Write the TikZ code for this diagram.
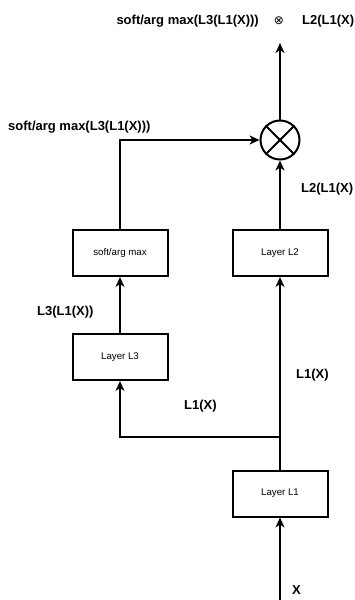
\documentclass[tikz,border=0pt]{standalone}
\usepackage{fontspec}
\setmainfont{Liberation Sans}
\newfontfamily\symfont{DejaVu Sans}
\usetikzlibrary{arrows.meta}
\begin{document}
\begin{tikzpicture}[x=1pt,y=-1pt,
  box/.style={draw,line width=2pt,minimum width=95pt,minimum height=46pt,inner sep=0pt,font=\fontsize{9.7}{11}\selectfont},
  lbl/.style={inner sep=0pt,font=\fontsize{13}{15}\selectfont\bfseries},
  arr/.style={line width=2pt,-{Stealth[length=10pt,width=9pt,inset=3pt]}},
  ln/.style={line width=2pt}]
\useasboundingbox (0,0) rectangle (354,600);
\node[box] (L1) at (280,493.5) {Layer L1};
\node[box] (L2) at (280,253) {Layer L2};
\node[box] (SM) at (120,253) {soft/arg max};
\node[box] (L3) at (120,357) {Layer L3};
\node[draw,circle,line width=2pt,minimum size=39pt,inner sep=0pt] (C) at (280,140) {};
\draw[ln] (C.north west) -- (C.south east);
\draw[ln] (C.north east) -- (C.south west);
\coordinate (xin) at (280,600);
\coordinate (j) at (280,437);
\coordinate (out) at (280,43);
\draw[arr] (xin) -- (L1.south);
\draw[arr] (L1.north) -- (L2.south);
\draw[arr] (j) -| (L3.south);
\draw[arr] (L3.north) -- (SM.south);
\draw[arr] (SM.north) |- (C.west);
\draw[arr] (L2.north) -- (C.south);
\draw[arr] (C.north) -- (out);
% labels
\node[lbl,anchor=east] (t1) at (259,21) {soft/arg max(L3(L1(X)))};
\node[inner sep=0pt,font=\fontsize{12}{14}\selectfont\symfont] (t2) at (279,21) {⊗};
\node[lbl,anchor=west] (t3) at (302,21) {L2(L1(X)};
\node[lbl,anchor=west] (m1) at (8,127.5) {soft/arg max(L3(L1(X)))};
\node[lbl,anchor=west] (m2) at (301,189) {L2(L1(X)};
\node[lbl,anchor=west] (m3) at (37,312) {L3(L1(X))};
\node[lbl,anchor=west] (m4) at (296,375) {L1(X)};
\node[lbl,anchor=west] (m5) at (184,406) {L1(X)};
\node[lbl,anchor=west] (m6) at (292,590) {X};
\end{tikzpicture}
\end{document}
